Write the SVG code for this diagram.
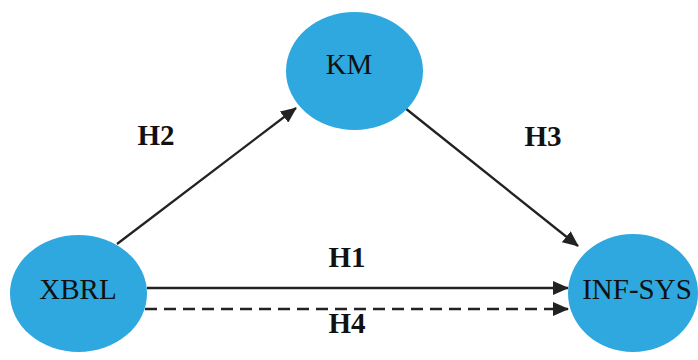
<svg xmlns="http://www.w3.org/2000/svg" width="698" height="360" viewBox="0 0 698 360">
<style>
.node{fill:#2EA8DE;}
.lbl{font-family:"Liberation Serif","Times New Roman",serif;font-size:29px;fill:#111;text-anchor:middle;}
.h{font-family:"Liberation Serif","Times New Roman",serif;font-size:29px;font-weight:bold;fill:#111;text-anchor:middle;}
.edge{stroke:#222;stroke-width:2.3;fill:none;}
.dash{stroke-dasharray:12 7;}
</style>
<defs>
<marker id="ah" markerWidth="16" markerHeight="14" refX="15" refY="7" orient="auto" markerUnits="userSpaceOnUse">
<path d="M0,0 L16,7 L0,14 Z" fill="#222"/>
</marker>
</defs>
<rect width="698" height="360" fill="#fff"/>
<g id="connectors">
<line class="edge" x1="117" y1="244" x2="296" y2="108" marker-end="url(#ah)"/>
<line class="edge" x1="405" y1="108" x2="578" y2="246" marker-end="url(#ah)"/>
<line class="edge" x1="147" y1="288" x2="568" y2="288" marker-end="url(#ah)"/>
<line class="edge dash" x1="145" y1="309" x2="568" y2="309" marker-end="url(#ah)"/>
</g>
<g id="node-km">
<ellipse class="node" cx="354.5" cy="71" rx="68.5" ry="59"/>
<text class="lbl" x="349" y="74">KM</text>
</g>
<g id="node-xbrl">
<ellipse class="node" cx="78.5" cy="293.5" rx="68.5" ry="58.5"/>
<text class="lbl" x="78" y="299">XBRL</text>
</g>
<g id="node-infsys">
<ellipse class="node" cx="633" cy="293" rx="65" ry="59"/>
<text class="lbl" x="637" y="299">INF-SYS</text>
</g>
<g id="labels">
<text class="h" x="156" y="145">H2</text>
<text class="h" x="543" y="146">H3</text>
<text class="h" x="347" y="267">H1</text>
<text class="h" x="347" y="333">H4</text>
</g>
</svg>
